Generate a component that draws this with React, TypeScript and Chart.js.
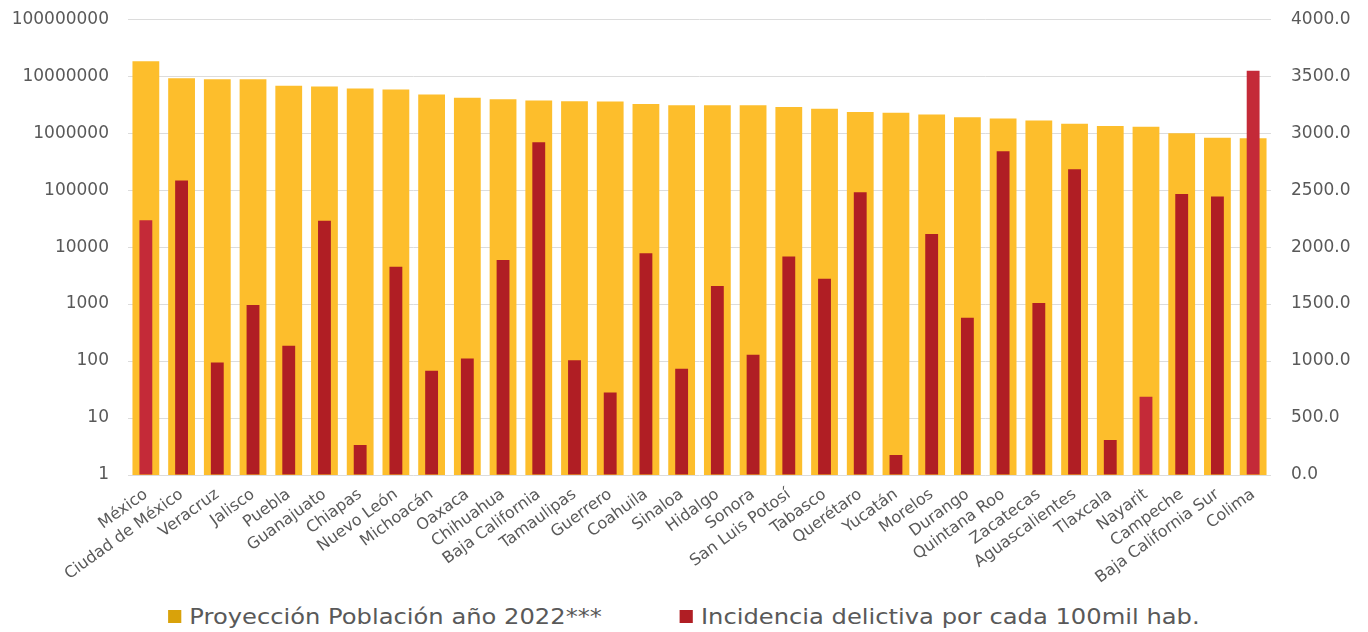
import React, { useEffect, useRef } from "react";
import { Chart, registerables } from "chart.js";

Chart.register(...registerables);

const estados = [
  "México", "Ciudad de México", "Veracruz", "Jalisco", "Puebla", "Guanajuato", "Chiapas", "Nuevo León",
  "Michoacán", "Oaxaca", "Chihuahua", "Baja California", "Tamaulipas", "Guerrero", "Coahuila", "Sinaloa",
  "Hidalgo", "Sonora", "San Luis Potosí", "Tabasco", "Querétaro", "Yucatán", "Morelos", "Durango",
  "Quintana Roo", "Zacatecas", "Aguascalientes", "Tlaxcala", "Nayarit", "Campeche", "Baja California Sur", "Colima",
];

const poblacion2022 = [
  18200000, 9200000, 8860000, 8800000, 6760000, 6590000, 6080000, 5840000,
  4770000, 4170000, 3950000, 3740000, 3640000, 3600000, 3260000, 3090000,
  3100000, 3100000, 2880000, 2670000, 2360000, 2270000, 2130000, 1910000,
  1810000, 1670000, 1460000, 1340000, 1290000, 1000000, 830000, 810000,
];

const incidencia = [
  2235, 2585, 988, 1491, 1134, 2231, 263, 1827,
  915, 1023, 1886, 2921, 1006, 725, 1947, 933,
  1658, 1056, 1918, 1722, 2482, 175, 2114, 1380,
  2842, 1509, 2684, 307, 687, 2465, 2445, 3547,
];

const ticksLog = [1, 10, 100, 1000, 10000, 100000, 1000000, 10000000, 100000000];

const YELLOW = "#FDBE2C";
const RED = "#B01E24";
const RED_LIGHT = "#C42A38";
const TEXT = "#595959";
const FONT = "DejaVu Sans";

export default function App() {
  const canvasRef = useRef<HTMLCanvasElement | null>(null);

  useEffect(() => {
    if (!canvasRef.current) return;
    const redColors = estados.map((_, i) => (i === 0 || i === 28 || i === 31 ? RED_LIGHT : RED));
    const chart = new Chart(canvasRef.current, {
      type: "bar",
      data: {
        labels: estados,
        datasets: [
          {
            label: "Incidencia delictiva por cada 100mil hab.",
            data: incidencia,
            backgroundColor: redColors,
            yAxisID: "y1",
            grouped: false,
            barPercentage: 0.36,
            categoryPercentage: 1,
          },
          {
            label: "Proyección Población año 2022***",
            data: poblacion2022,
            backgroundColor: YELLOW,
            yAxisID: "y",
            grouped: false,
            barPercentage: 0.75,
            categoryPercentage: 1,
          },
        ],
      },
      options: {
        responsive: true,
        maintainAspectRatio: false,
        animation: false,
        layout: { padding: { top: 3, left: 0, right: 0, bottom: 0 } },
        plugins: {
          legend: { display: false },
          tooltip: { enabled: false },
        },
        scales: {
          x: {
            grid: { display: false },
            border: { display: false },
            ticks: {
              color: TEXT,
              font: { family: FONT, size: 16 },
              minRotation: 36,
              maxRotation: 36,
              autoSkip: false,
              padding: 2,
            },
            afterFit: (s: any) => {
              s.height = 125;
            },
          },
          y: {
            type: "logarithmic",
            position: "left",
            min: 1,
            max: 100000000,
            grid: { color: "#DCDCDC", drawTicks: false, lineWidth: 1 },
            border: { display: false },
            afterBuildTicks: (s: any) => {
              s.ticks = ticksLog.map((v) => ({ value: v }));
            },
            ticks: {
              color: TEXT,
              font: { family: FONT, size: 17 },
              padding: 19,
              callback: (v: any) => String(v),
            },
            afterFit: (s: any) => {
              s.width = 120;
            },
          },
          y1: {
            type: "linear",
            position: "right",
            min: 0,
            max: 4000,
            grid: { drawOnChartArea: false, drawTicks: false },
            border: { display: false },
            ticks: {
              stepSize: 500,
              color: TEXT,
              font: { family: FONT, size: 17 },
              padding: 20,
              callback: (v: any) => Number(v).toFixed(1),
            },
            afterFit: (s: any) => {
              s.width = 89;
            },
          },
        },
      },
    });
    return () => chart.destroy();
  }, []);

  const legendItems = [
    { label: "Proyección Población año 2022***", color: "#D9A20A" },
    { label: "Incidencia delictiva por cada 100mil hab.", color: RED },
  ];

  return (
    <div style={{ width: "100%", fontFamily: FONT }}>
      <div style={{ position: "relative", height: 611, marginTop: -19 }}>
        <canvas ref={canvasRef} />
      </div>
      <div
        style={{
          height: 32,
          display: "flex",
          justifyContent: "center",
          alignItems: "center",
          gap: 71,
          color: TEXT,
          fontSize: 22,
          transform: "scaleX(1.1)",
          transformOrigin: "center",
        }}
      >
        {legendItems.map((it) => (
          <div key={it.label} style={{ display: "flex", alignItems: "center" }}>
            <span
              style={{
                display: "inline-block",
                width: 12,
                height: 13,
                background: it.color,
                marginRight: 7,
              }}
            />
            <span>{it.label}</span>
          </div>
        ))}
      </div>
    </div>
  );
}
